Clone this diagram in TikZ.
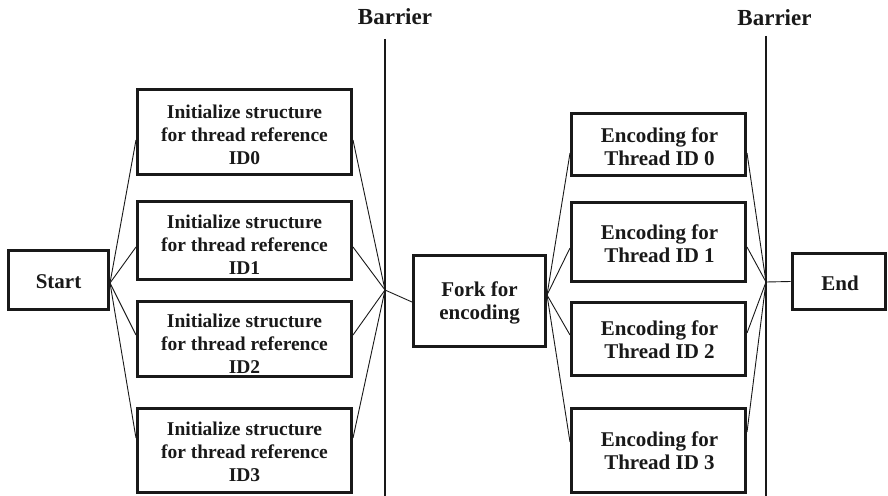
\documentclass[tikz,border=0pt]{standalone}
\usepackage{fontspec}
\setmainfont{Liberation Serif}
\usetikzlibrary{calc}
\begin{document}
\begin{tikzpicture}[x=1pt,y=-1pt,
  box/.style={draw=black!90, line width=3pt, inner sep=0pt},
  txt/.style={font=\bfseries\fontsize{21}{23}\selectfont, align=center, inner sep=0pt, text=black!90},
  itxt/.style={font=\bfseries\fontsize{19.5}{23}\selectfont, align=center, inner sep=0pt, text=black!90},
  btxt/.style={font=\bfseries\fontsize{23}{25}\selectfont, inner sep=0pt, text=black!90},
  conn/.style={line width=0.9pt, draw=black!90},
  barrierline/.style={line width=2pt, draw=black!90}]
\useasboundingbox (0,0) rectangle (888,495);

% boxes
\node[box, minimum width=100pt, minimum height=59pt] (start) at (58.5,280) {};
\node[txt] (startT) at (58.5,282) {Start};

\node[box, minimum width=214pt, minimum height=85pt] (i1) at (244.5,132) {};
\node[box, minimum width=214pt, minimum height=78pt] (i2) at (244.5,240.5) {};
\node[box, minimum width=214pt, minimum height=75pt] (i3) at (244.5,339) {};
\node[box, minimum width=214pt, minimum height=84pt] (i4) at (244.5,450.5) {};
\node[itxt] (i1T) at (244.5,135) {Initialize structure\\for thread reference\\ID0};
\node[itxt] (i2T) at (244.5,245) {Initialize structure\\for thread reference\\ID1};
\node[itxt] (i3T) at (244.5,344) {Initialize structure\\for thread reference\\ID2};
\node[itxt] (i4T) at (244.5,452) {Initialize structure\\for thread reference\\ID3};

\node[box, minimum width=132pt, minimum height=91pt] (fork) at (479.5,301) {};
\node[txt] (forkT) at (479.5,302.5) {Fork for\\encoding};

\node[box, minimum width=174pt, minimum height=62pt] (e1) at (658.5,144.5) {};
\node[box, minimum width=174pt, minimum height=79pt] (e2) at (658.5,242) {};
\node[box, minimum width=174pt, minimum height=73pt] (e3) at (658.5,339) {};
\node[box, minimum width=174pt, minimum height=84pt] (e4) at (658.5,450.5) {};
\node[txt] (e1T) at (659.5,147) {Encoding for\\Thread ID 0};
\node[txt] (e2T) at (659.5,243.5) {Encoding for\\Thread ID 1};
\node[txt] (e3T) at (659.5,339.5) {Encoding for\\Thread ID 2};
\node[txt] (e4T) at (659.5,451) {Encoding for\\Thread ID 3};

\node[box, minimum width=93pt, minimum height=56pt] (end) at (838.5,281.5) {};
\node[txt] (endT) at (840,283) {End};

% barriers
\node[btxt] (bl1) at (395,17) {Barrier};
\node[btxt] (bl2) at (774.5,18) {Barrier};
\coordinate (b1top) at (385,39);
\coordinate (b1bot) at (385,496);
\coordinate (b2top) at (766,36);
\coordinate (b2bot) at (766,496);
\draw[barrierline] (b1top) -- (b1bot);
\draw[barrierline] (b2top) -- (b2bot);
\coordinate (b1) at (385,290);
\coordinate (b2) at (766,282);

% connectors
\coordinate (sE) at ([yshift=-3pt]start.east);
\draw[conn] (sE) -- ([yshift=-8pt]i1.west);
\draw[conn] (sE) -- ([yshift=-6.5pt]i2.west);
\draw[conn] (sE) -- ([yshift=4pt]i3.west);
\draw[conn] (sE) -- ([yshift=12.5pt]i4.west);

\draw[conn] ([yshift=-8pt]i1.east) -- (b1);
\draw[conn] ([yshift=-6.5pt]i2.east) -- (b1);
\draw[conn] ([yshift=4pt]i3.east) -- (b1);
\draw[conn] ([yshift=12.5pt]i4.east) -- (b1);
\draw[conn] (b1) -- ([yshift=-1pt]fork.west);

\coordinate (fE) at ([yshift=6pt]fork.east);
\draw[conn] (fE) -- ([yshift=-8.5pt]e1.west);
\draw[conn] (fE) -- ([yshift=-6pt]e2.west);
\draw[conn] (fE) -- ([yshift=4pt]e3.west);
\draw[conn] (fE) -- ([yshift=8.5pt]e4.west);

\draw[conn] ([yshift=-8.5pt]e1.east) -- (b2);
\draw[conn] ([yshift=-5pt]e2.east) -- (b2);
\draw[conn] ([yshift=6pt]e3.east) -- (b2);
\draw[conn] ([yshift=18.5pt]e4.east) -- (b2);
\draw[conn] (b2) -- (end.west);
\end{tikzpicture}
\end{document}
